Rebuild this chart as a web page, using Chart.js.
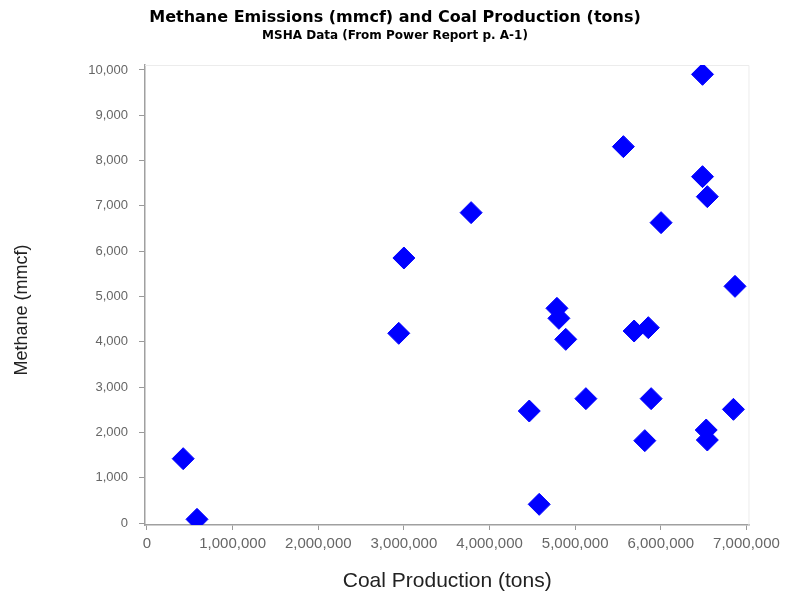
<!DOCTYPE html>
<html>
<head>
<meta charset="utf-8">
<script src="https://cdn.jsdelivr.net/npm/chart.js@4/dist/chart.umd.min.js"></script>
<style>
  html, body { margin: 0; padding: 0; background: #ffffff; }
  #wrap { width: 785px; height: 594px; }
</style>
</head>
<body>
<div id="wrap"><canvas id="c" width="785" height="594"></canvas></div>
<script>
const coalProduction = [423000, 584000, 2940000, 3000000, 3785000, 4464000, 4580000, 4787000, 4810000, 4890000, 5125000, 5563000, 5688000, 5854000, 5887000, 5813000, 6003000, 6487000, 6487000, 6543000, 6530000, 6543000, 6866000, 6848000];
const methane = [1420, 81, 4187, 5850, 6851, 2472, 412, 4739, 4518, 4054, 2745, 8308, 4238, 4312, 2745, 1818, 6630, 9904, 7645, 7204, 2053, 1832, 5224, 2509];
const xTickValues = [0, 1000000, 2000000, 3000000, 4000000, 5000000, 6000000, 7000000];
const yTickValues = [0, 1000, 2000, 3000, 4000, 5000, 6000, 7000, 8000, 9000, 10000];
const titleText = 'Methane Emissions (mmcf) and Coal Production (tons)';
const subtitleText = 'MSHA Data (From Power Report p. A-1)';
const xTitle = 'Coal Production (tons)';
const yTitle = 'Methane (mmcf)';

const points = coalProduction.map((x, i) => ({ x: x, y: methane[i] }));
const fmt = v => Number(v).toLocaleString('en-US');

const framePlugin = {
  id: 'frame',
  beforeDatasetsDraw(chart) {
    const { ctx, chartArea: a } = chart;
    ctx.save();
    ctx.strokeStyle = '#ececec';
    ctx.lineWidth = 1;
    ctx.beginPath();
    ctx.moveTo(a.left, a.top + 0.5);
    ctx.lineTo(a.right - 0.5, a.top + 0.5);
    ctx.lineTo(a.right - 0.5, a.bottom);
    ctx.stroke();
    ctx.restore();
  }
};

// y-axis title drawn at the left edge of the canvas (outside the y scale box)
const yTitlePlugin = {
  id: 'yTitle',
  afterDraw(chart) {
    const { ctx, chartArea: a } = chart;
    ctx.save();
    ctx.translate(22, (a.top + a.bottom) / 2 + 15);
    ctx.rotate(-Math.PI / 2);
    ctx.fillStyle = '#222222';
    ctx.font = '18px "Liberation Sans"';
    ctx.textAlign = 'center';
    ctx.textBaseline = 'middle';
    ctx.fillText(yTitle, 0, 0);
    ctx.restore();
  }
};

new Chart(document.getElementById('c'), {
  type: 'scatter',
  data: {
    datasets: [{
      data: points,
      pointStyle: 'rectRot',
      pointRadius: 11,
      pointHoverRadius: 11,
      backgroundColor: '#0000ff',
      borderColor: '#0000ff',
      borderWidth: 1
    }]
  },
  options: {
    responsive: false,
    animation: false,
    devicePixelRatio: 1,
    layout: { padding: { left: 40, right: 35, top: 0, bottom: 0 } },
    plugins: {
      legend: { display: false },
      tooltip: { enabled: false },
      title: {
        display: true,
        text: titleText,
        color: '#000000',
        font: { family: 'DejaVu Sans', size: 16, weight: 'bold' },
        padding: { top: 8, bottom: 1 }
      },
      subtitle: {
        display: true,
        text: subtitleText,
        color: '#000000',
        font: { family: 'DejaVu Sans', size: 12, weight: 'bold' },
        padding: { top: 0, bottom: 22.4 }
      }
    },
    scales: {
      x: {
        type: 'linear',
        min: -23000,
        max: 7035000,
        afterBuildTicks: s => { s.ticks = xTickValues.map(v => ({ value: v })); },
        afterFit: s => { s.height = 69; },
        ticks: {
          callback: v => fmt(v),
          color: '#666666',
          font: { family: 'Liberation Sans', size: 15 },
          padding: 5,
          maxRotation: 0,
          autoSkip: false
        },
        grid: { drawOnChartArea: false, drawTicks: true, tickLength: 5, color: '#999999' },
        border: { display: true, color: '#a0a0a0', width: 1.5 },
        title: {
          display: true,
          text: xTitle,
          color: '#222222',
          font: { family: 'Liberation Sans', size: 21 },
          padding: { top: 0, bottom: 0.5 }
        }
      },
      y: {
        type: 'linear',
        min: -44,
        max: 10110,
        afterBuildTicks: s => { s.ticks = yTickValues.map(v => ({ value: v })); },
        afterFit: s => { s.width = 105; },
        ticks: {
          callback: v => fmt(v),
          color: '#666666',
          font: { family: 'Liberation Sans', size: 13 },
          padding: 11,
          autoSkip: false
        },
        grid: { drawOnChartArea: false, drawTicks: true, tickLength: 6, color: '#999999' },
        border: { display: true, color: '#a0a0a0', width: 1.5 },
        title: { display: false }
      }
    }
  },
  plugins: [framePlugin, yTitlePlugin]
});
</script>
</body>
</html>
